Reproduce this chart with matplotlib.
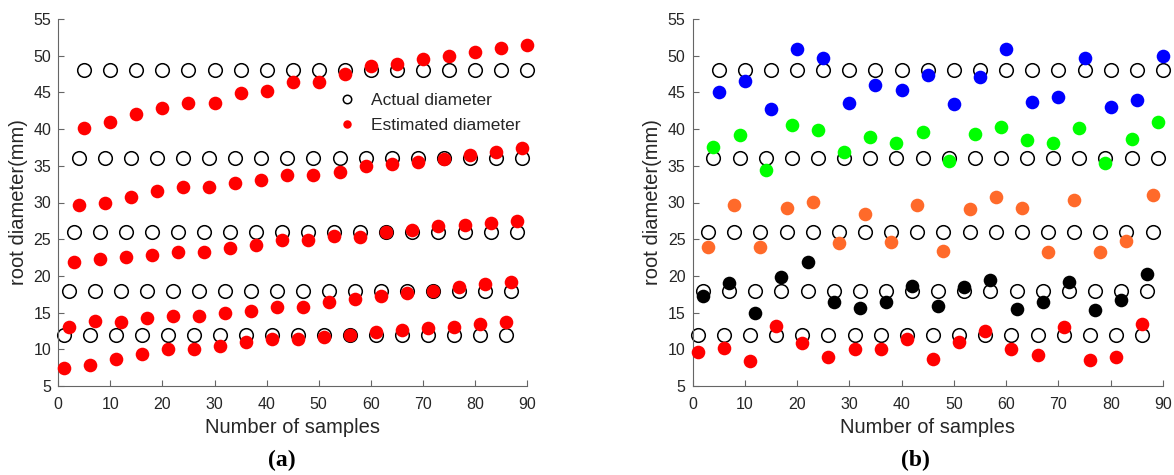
import matplotlib
matplotlib.use("Agg")
import matplotlib.pyplot as plt
import numpy as np

# ---------------- data ----------------
actual_levels = [48, 36, 26, 18, 12]
x_offsets = [5, 4, 3, 2, 1]           # first sample index of each group
n_per_group = 18

# Panel (a) estimated diameters
est_a_48 = [40.2, 40.9, 42.1, 42.9, 43.5, 43.5, 44.9, 45.2, 46.4, 46.4, 47.5, 48.6, 48.9, 49.5, 50.0, 50.5, 51.0, 51.4]
est_a_36 = [29.6, 30.0, 30.8, 31.6, 32.1, 32.1, 32.7, 33.1, 33.7, 33.7, 34.1, 35.0, 35.2, 35.5, 35.9, 36.5, 36.9, 37.4]
est_a_26 = [21.9, 22.3, 22.6, 22.9, 23.3, 23.3, 23.8, 24.2, 24.9, 24.9, 25.5, 25.3, 26.0, 26.3, 26.8, 27.0, 27.2, 27.5]
est_a_18 = [13.1, 13.9, 13.7, 14.3, 14.6, 14.6, 14.9, 15.2, 15.8, 15.8, 16.4, 16.8, 17.2, 17.7, 18.0, 18.5, 18.9, 19.2]
est_a_12 = [7.5, 7.9, 8.7, 9.4, 10.1, 10.1, 10.5, 11.0, 11.4, 11.4, 11.7, 12.0, 12.3, 12.6, 12.9, 13.1, 13.4, 13.7]

# Panel (b) estimated diameters
est_b_48 = [45.0, 46.6, 42.7, 50.9, 49.7, 43.6, 46.0, 45.3, 47.4, 43.4, 47.1, 50.9, 43.7, 44.4, 49.7, 43.0, 43.9, 50.0]
est_b_36 = [37.5, 39.2, 34.4, 40.6, 39.9, 36.9, 38.9, 38.1, 39.6, 35.7, 39.4, 40.3, 38.5, 38.1, 40.1, 35.4, 38.7, 40.9]
est_b_26 = [23.9, 29.7, 24.0, 29.3, 30.1, 24.5, 28.4, 24.6, 29.6, 23.4, 29.1, 30.8, 29.3, 23.2, 30.4, 23.2, 24.8, 31.0]
est_b_18 = [17.3, 19.0, 15.0, 19.8, 21.9, 16.4, 15.6, 16.4, 18.6, 15.9, 18.5, 19.5, 15.5, 16.4, 19.2, 15.4, 16.7, 20.2]
est_b_12 = [9.6, 10.2, 8.4, 13.2, 10.8, 9.0, 10.0, 10.0, 11.4, 8.7, 11.0, 12.5, 10.1, 9.2, 13.1, 8.5, 9.0, 13.4]

est_a = [est_a_48, est_a_36, est_a_26, est_a_18, est_a_12]
est_b = [est_b_48, est_b_36, est_b_26, est_b_18, est_b_12]
colors_b = ["#0000FF", "#00FF00", "#FF6A2A", "#000000", "#FF0000"]

x_ticks = [0, 10, 20, 30, 40, 50, 60, 70, 80, 90]
y_ticks = [5, 10, 15, 20, 25, 30, 35, 40, 45, 50, 55]

# ---------------- style ----------------
plt.rcParams['font.family'] = ['Liberation Sans', 'DejaVu Sans']
txt_color = '#262626'
axis_color = '#666666'

fig = plt.figure(figsize=(11.74, 4.75), dpi=100)
ax_a = fig.add_axes([58.3 / 1174, 89 / 475, 468.7 / 1174, 367 / 475])
ax_b = fig.add_axes([692.5 / 1174, 89 / 475, 470.5 / 1174, 367 / 475])

ms = 9.8


def style_axis(ax):
    ax.set_xlim(0, 90)
    ax.set_ylim(5, 55)
    ax.set_xticks(x_ticks)
    ax.set_yticks(y_ticks)
    for s in ['top', 'right']:
        ax.spines[s].set_visible(False)
    for s in ['left', 'bottom']:
        ax.spines[s].set_color(axis_color)
        ax.spines[s].set_linewidth(0.8)
    ax.tick_params(direction='in', length=4, width=0.8, color=axis_color,
                   labelsize=11.5, labelcolor=txt_color)
    ax.tick_params(axis='x', pad=8)
    ax.tick_params(axis='y', pad=5)
    ax.set_xlabel('Number of samples', fontsize=14.5, color=txt_color, labelpad=4)
    ax.set_ylabel('root diameter(mm)', fontsize=14.5, color=txt_color, labelpad=4)


# Panel (a)
for k, level in enumerate(actual_levels):
    xs = np.arange(n_per_group) * 5 + x_offsets[k]
    ax_a.plot(xs, [level] * n_per_group, 'o', ms=ms, mfc='none', mec='black',
              mew=1.1, clip_on=False, zorder=2,
              label='Actual diameter' if k == 0 else None)
for k, level in enumerate(actual_levels):
    xs = np.arange(n_per_group) * 5 + x_offsets[k]
    ax_a.plot(xs, est_a[k], 'o', ms=ms, color='#FF0000', mec='none',
              clip_on=False, zorder=3,
              label='Estimated diameter' if k == 0 else None)
style_axis(ax_a)
leg = ax_a.legend(loc='upper left', bbox_to_anchor=(0.578, 0.817), frameon=False,
                  fontsize=12.5, markerscale=0.62, handlelength=1.2,
                  handletextpad=0.8, labelspacing=0.55, borderaxespad=0)
for t in leg.get_texts():
    t.set_color(txt_color)

# Panel (b)
for k, level in enumerate(actual_levels):
    xs = np.arange(n_per_group) * 5 + x_offsets[k]
    ax_b.plot(xs, [level] * n_per_group, 'o', ms=ms, mfc='none', mec='black',
              mew=1.1, clip_on=False, zorder=2)
for k, level in enumerate(actual_levels):
    xs = np.arange(n_per_group) * 5 + x_offsets[k]
    ax_b.plot(xs, est_b[k], 'o', ms=ms, color=colors_b[k], mec='none',
              clip_on=False, zorder=3)
style_axis(ax_b)

# Panel captions
fig.text(281.7 / 1174, 1 - 460 / 475, '(a)', ha='center', va='center',
         fontsize=17, fontweight='bold', family=['Liberation Serif', 'DejaVu Serif'])
fig.text(915 / 1174, 1 - 460 / 475, '(b)', ha='center', va='center',
         fontsize=17, fontweight='bold', family=['Liberation Serif', 'DejaVu Serif'])

fig.savefig('out.png', dpi=100)
